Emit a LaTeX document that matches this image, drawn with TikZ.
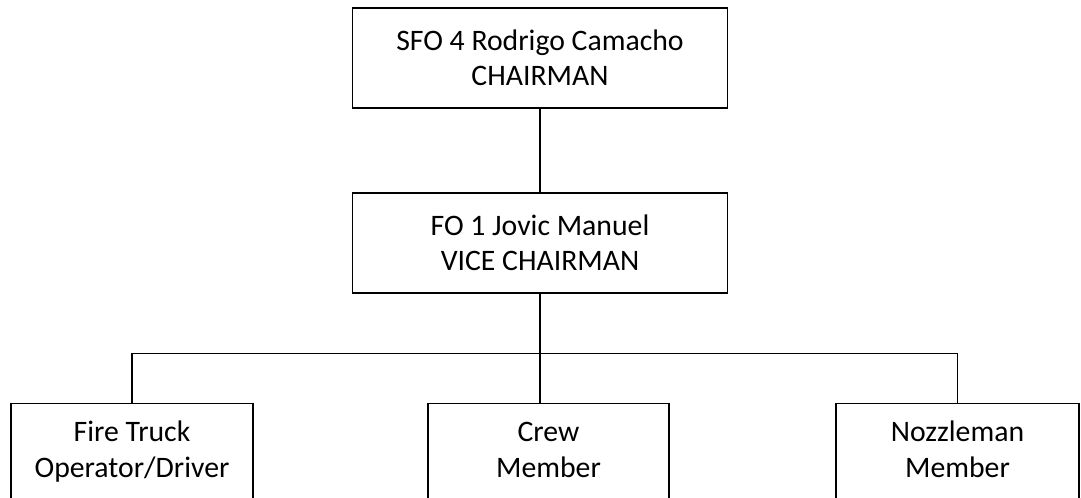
\documentclass[tikz,border=0pt]{standalone}
\usepackage{fontspec}
\setmainfont{Carlito}

\begin{document}
\begin{tikzpicture}[x=0.75pt,y=-0.75pt,
    rolebox/.style={draw,line width=1pt,align=center,inner sep=2pt,
      minimum width=281pt,minimum height=75pt,
      font=\fontsize{22.3}{26}\selectfont},
    memberbox/.style={draw,line width=1pt,align=center,anchor=north,
      inner xsep=2pt,inner ysep=0pt,text height=55pt,text depth=60pt,
      font=\fontsize{22.3}{27}\selectfont},
    link/.style={line width=1pt}]
  % page
  \useasboundingbox (0,0) rectangle (1081,498);
  \clip (0,0) rectangle (1081,498);

  % chairman and vice chairman
  \node[rolebox] (chair) at (540,58) {SFO 4 Rodrigo Camacho\\CHAIRMAN};
  \node[rolebox] (vice) at (540,243) {FO 1 Jovic Manuel\\VICE CHAIRMAN};

  % members (cut off by the page edge)
  \node[memberbox,minimum width=181.5pt] (driver) at (132,403) {Fire Truck\\Operator/Driver};
  \node[memberbox,minimum width=180.75pt] (crew) at (548.5,403) {Crew\\Member};
  \node[memberbox,minimum width=182.25pt] (nozzle) at (957.5,403) {Nozzleman\\Member};

  % lines
  \draw[link] (chair) -- (vice);
  \draw[link] (vice.south) -- (vice.south |- crew.north);
  \foreach \member in {driver,nozzle}
    \draw[link] (vice.south) -- ++(0,60) -| (\member.north);
\end{tikzpicture}
\end{document}
